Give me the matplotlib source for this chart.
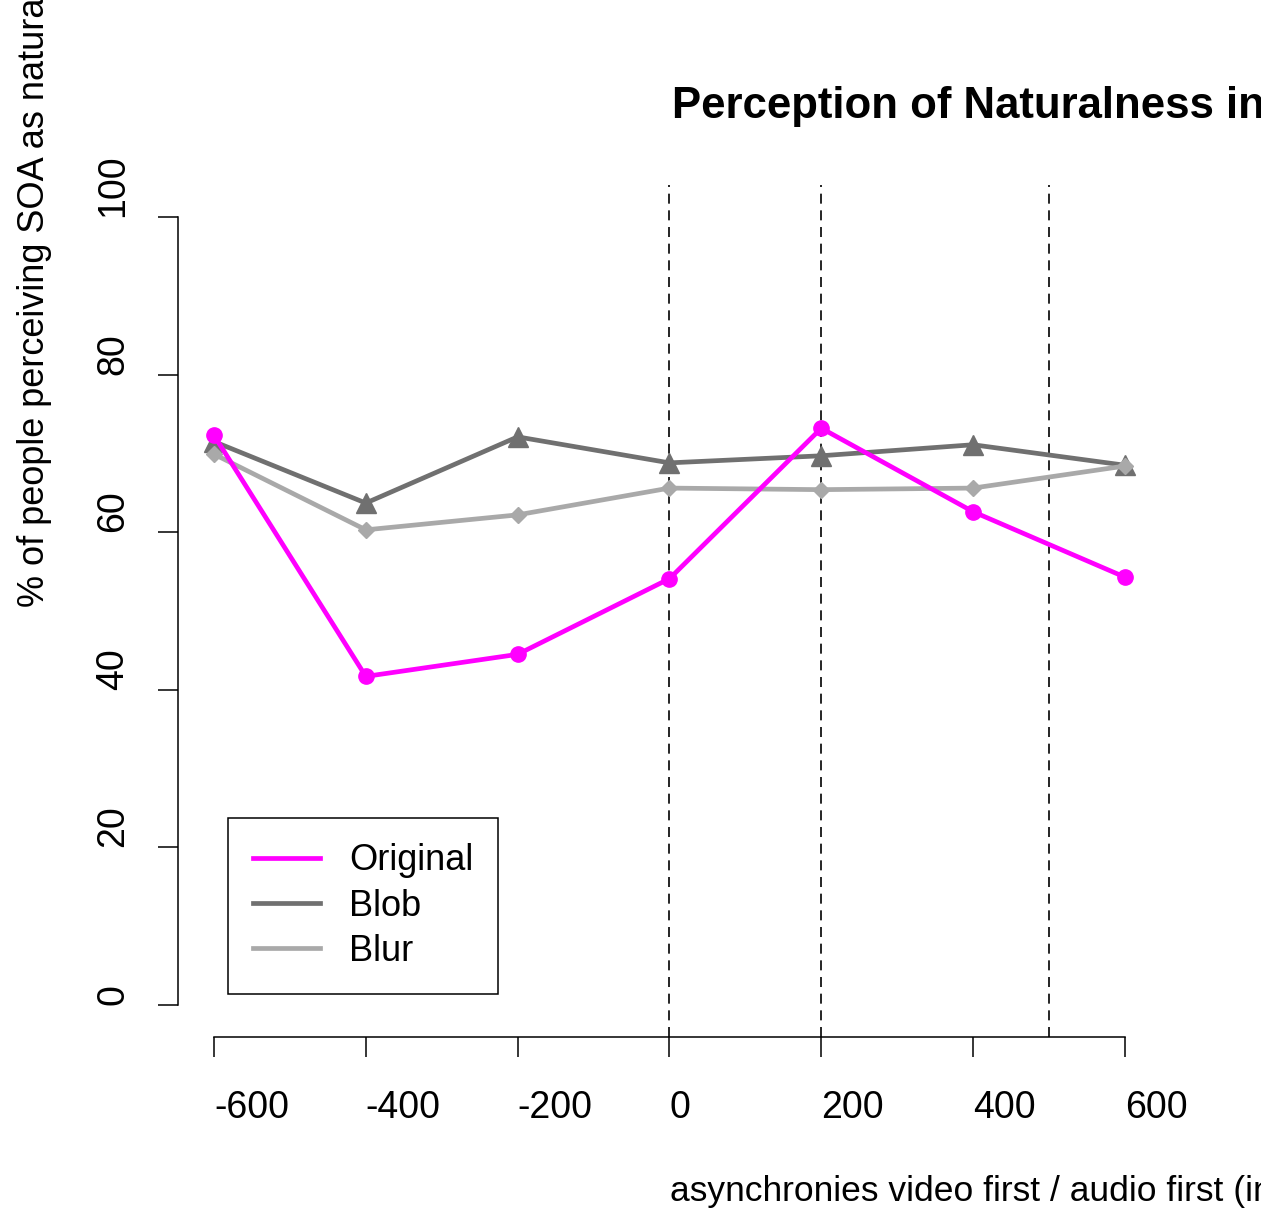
import matplotlib
matplotlib.use("Agg")
import matplotlib.pyplot as plt
from matplotlib.lines import Line2D

plt.rcParams["font.family"] = ["Liberation Sans", "DejaVu Sans"]

# Data
soa = [-600, -400, -200, 0, 200, 400, 600]
original = [72.3, 41.7, 44.5, 54.1, 73.2, 62.6, 54.3]
blob = [71.5, 63.7, 72.1, 68.8, 69.7, 71.1, 68.5]
blur = [69.9, 60.3, 62.2, 65.6, 65.4, 65.6, 68.4]
vlines = [0, 200, 500]
xticks = [-600, -400, -200, 0, 200, 400, 600]
yticks = [0, 20, 40, 60, 80, 100]

c_orig = "#FF00FF"
c_blob = "#707070"
c_blur = "#A9A9A9"

fig = plt.figure(figsize=(12.61, 12.14), dpi=100)
ax = fig.add_axes([0.1408, 0.1462, 0.7802, 0.701])

for v in vlines:
    ax.axvline(v, color="black", lw=1.2, linestyle=(0, (6, 4)), zorder=1)

ax.plot(soa, original, color=c_orig, lw=3.4, marker="o", ms=11, zorder=4)
ax.plot(soa, blob, color=c_blob, lw=3.4, marker="^", ms=15, zorder=3)
ax.plot(soa, blur, color=c_blur, lw=3.4, marker="D", ms=8.5, zorder=3)

ax.set_xlim(-648, 648)
ax.set_ylim(-4, 104)

# R-style detached axes
for s in ["top", "right"]:
    ax.spines[s].set_visible(False)
ax.spines["left"].set_bounds(0, 100)
ax.spines["bottom"].set_bounds(-600, 600)
ax.spines["left"].set_linewidth(1.1)
ax.spines["bottom"].set_linewidth(1.1)

ax.set_xticks(xticks)
ax.set_xticklabels([str(t) for t in xticks], ha="left")
ax.set_yticks(yticks)
ax.set_yticklabels([str(t) for t in yticks], rotation=90, va="bottom", ha="right")
ax.tick_params(axis="x", length=14.4, width=1.1, pad=24, labelsize=27)
ax.tick_params(axis="y", length=14.4, width=1.1, pad=19, labelsize=27)

# Title and labels (clipped by the figure edge like the original)
fig.text(672 / 1261, 1 - 118 / 1214, "Perception of Naturalness in Face Animations",
         fontsize=31.5, fontweight="bold", ha="left", va="baseline")
fig.text(670 / 1261, 1 - 1192 / 1214, "asynchronies video first / audio first (in ms)",
         fontsize=25.5, ha="left", va="center")
fig.text(35 / 1261, 1 - 607 / 1214, "% of people perceiving SOA as natural",
         fontsize=26, rotation=90, ha="center", va="bottom")

handles = [
    Line2D([], [], color=c_orig, lw=3.4),
    Line2D([], [], color=c_blob, lw=3.4),
    Line2D([], [], color=c_blur, lw=3.4),
]
leg = ax.legend(handles, ["Original", "Blob", "Blur"], loc="lower left",
                bbox_to_anchor=(228 / 1261, 1 - 994 / 1214),
                bbox_transform=fig.transFigure, fontsize=26, frameon=True,
                fancybox=False, edgecolor="black", framealpha=1,
                handlelength=1.85, handletextpad=0.8, labelspacing=0.28,
                borderpad=0.7, borderaxespad=0)
leg.get_frame().set_linewidth(1.1)

fig.savefig("out.png", dpi=100)
